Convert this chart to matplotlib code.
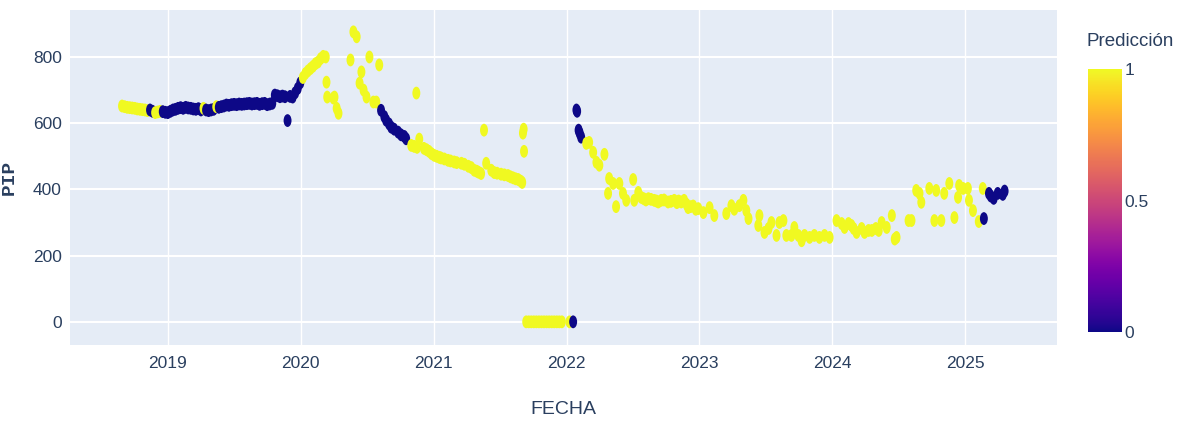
import matplotlib
matplotlib.use("Agg")
import matplotlib.pyplot as plt
import numpy as np
import pandas as pd
from matplotlib.path import Path
from matplotlib.transforms import Affine2D

# Reading of the reference: (fecha, PIP, prediccion)
PUNTOS = """
2018-08-28 652 1
2018-09-04 650 1
2018-09-11 648 1
2018-09-18 647 1
2018-09-25 646 1
2018-10-02 645 1
2018-10-09 643 1
2018-10-16 642 1
2018-10-23 641 1
2018-10-30 640 1
2018-11-06 638 1
2018-11-13 640 0
2018-11-20 636 0
2018-11-27 632 1
2018-12-04 634 1
2018-12-11 636 1
2018-12-18 635 0
2018-12-25 633 0
2019-01-01 632 0
2019-01-08 636 0
2019-01-15 640 0
2019-01-22 642 0
2019-01-29 645 0
2019-02-05 647 0
2019-02-12 645 0
2019-02-19 648 0
2019-02-26 646 0
2019-03-05 645 0
2019-03-12 643 0
2019-03-19 642 0
2019-03-26 644 0
2019-04-02 640 0
2019-04-09 645 1
2019-04-16 640 0
2019-04-23 638 0
2019-04-30 640 0
2019-05-07 642 0
2019-05-14 650 1
2019-05-21 648 0
2019-05-28 650 0
2019-06-04 652 0
2019-06-11 655 0
2019-06-18 654 0
2019-06-25 656 0
2019-07-02 657 0
2019-07-09 656 0
2019-07-16 658 0
2019-07-23 657 0
2019-07-30 658 0
2019-08-06 659 0
2019-08-13 660 0
2019-08-20 658 0
2019-08-27 659 0
2019-09-03 660 0
2019-09-10 657 0
2019-09-17 659 0
2019-09-24 660 0
2019-10-01 656 0
2019-10-08 658 0
2019-10-15 660 0
2019-10-22 685 0
2019-10-29 683 0
2019-11-05 680 0
2019-11-12 682 0
2019-11-19 680 0
2019-11-26 608 0
2019-12-03 681 0
2019-12-10 679 0
2019-12-17 692 0
2019-12-24 705 0
2019-12-31 722 0
2020-01-07 738 1
2020-01-14 750 1
2020-01-21 758 1
2020-01-28 765 1
2020-02-04 772 1
2020-02-11 780 1
2020-02-18 785 1
2020-02-25 795 1
2020-03-03 802 1
2020-03-10 800 1
2020-03-12 724 1
2020-03-14 679 1
2020-03-31 676 1
2020-04-03 679 1
2020-04-09 645 1
2020-04-14 630 1
2020-05-17 791 1
2020-05-25 876 1
2020-06-03 861 1
2020-06-11 721 1
2020-06-16 755 1
2020-06-22 700 1
2020-06-30 679 1
2020-07-08 800 1
2020-07-19 664 1
2020-07-27 664 1
2020-08-04 776 1
2020-08-09 639 0
2020-08-18 620 0
2020-08-23 609 0
2020-08-31 598 0
2020-09-06 588 0
2020-09-14 582 0
2020-09-25 573 0
2020-10-03 565 0
2020-10-12 560 0
2020-10-17 553 0
2020-10-31 533 1
2020-11-08 530 1
2020-11-14 691 1
2020-11-16 527 1
2020-11-22 552 1
2020-12-05 524 1
2020-12-12 520 1
2020-12-19 515 1
2020-12-26 508 1
2021-01-02 503 1
2021-01-09 500 1
2021-01-16 497 1
2021-01-21 495 1
2021-01-30 492 1
2021-02-09 488 1
2021-02-16 486 1
2021-02-26 483 1
2021-03-05 481 1
2021-03-18 479 1
2021-03-26 476 1
2021-04-06 470 1
2021-04-14 466 1
2021-04-22 458 1
2021-04-29 455 1
2021-05-04 452 1
2021-05-11 448 1
2021-05-19 579 1
2021-05-25 479 1
2021-06-08 458 1
2021-06-16 451 1
2021-06-24 449 1
2021-07-05 446 1
2021-07-14 444 1
2021-07-24 442 1
2021-07-31 438 1
2021-08-07 435 1
2021-08-14 432 1
2021-08-21 430 1
2021-08-28 425 1
2021-09-01 421 1
2021-09-03 570 1
2021-09-05 582 1
2021-09-06 515 1
2021-09-12 0 1
2021-09-19 0 1
2021-09-26 0 1
2021-10-03 0 1
2021-10-10 0 1
2021-10-17 0 1
2021-10-24 0 1
2021-10-31 0 1
2021-11-07 0 1
2021-11-14 0 1
2021-11-21 0 1
2021-11-28 0 1
2021-12-05 0 1
2021-12-12 0 1
2021-12-19 0 1
2022-01-09 0 1
2022-01-19 0 0
2022-01-28 640 0
2022-01-30 636 0
2022-02-03 579 0
2022-02-06 570 0
2022-02-10 558 0
2022-02-24 539 1
2022-03-04 542 1
2022-03-15 512 1
2022-03-24 482 1
2022-04-01 473 1
2022-04-15 506 1
2022-04-25 388 1
2022-04-28 433 1
2022-05-09 418 1
2022-05-17 348 1
2022-05-26 418 1
2022-06-05 388 1
2022-06-14 367 1
2022-07-03 430 1
2022-07-06 367 1
2022-07-17 391 1
2022-07-25 376 1
2022-08-01 372 1
2022-08-07 368 1
2022-08-14 372 1
2022-08-21 370 1
2022-08-30 367 1
2022-09-05 365 1
2022-09-10 362 1
2022-09-18 367 1
2022-09-26 368 1
2022-10-07 362 1
2022-10-15 364 1
2022-10-24 367 1
2022-10-31 360 1
2022-11-05 365 1
2022-11-12 362 1
2022-11-20 367 1
2022-11-27 355 1
2022-12-01 345 1
2022-12-08 348 1
2022-12-15 350 1
2022-12-22 340 1
2022-12-29 342 1
2023-01-12 330 1
2023-01-29 345 1
2023-02-11 321 1
2023-03-16 327 1
2023-03-30 351 1
2023-04-07 340 1
2023-04-21 351 1
2023-05-02 367 1
2023-05-10 336 1
2023-05-16 312 1
2023-06-12 291 1
2023-06-15 321 1
2023-06-29 270 1
2023-07-10 282 1
2023-07-18 300 1
2023-08-01 261 1
2023-08-09 300 1
2023-08-20 306 1
2023-08-28 261 1
2023-09-11 261 1
2023-09-19 285 1
2023-09-30 261 1
2023-10-09 245 1
2023-10-17 261 1
2023-10-31 255 1
2023-11-13 261 1
2023-11-27 255 1
2023-12-11 261 1
2023-12-25 255 1
2024-01-13 306 1
2024-01-27 297 1
2024-02-04 285 1
2024-02-15 297 1
2024-02-23 291 1
2024-02-29 282 1
2024-03-08 270 1
2024-03-22 282 1
2024-03-30 270 1
2024-04-10 276 1
2024-04-19 276 1
2024-04-30 282 1
2024-05-08 276 1
2024-05-16 300 1
2024-05-30 285 1
2024-06-13 321 1
2024-06-21 250 1
2024-06-26 255 1
2024-07-29 306 1
2024-08-06 306 1
2024-08-19 397 1
2024-08-28 388 1
2024-09-02 361 1
2024-09-24 403 1
2024-10-08 306 1
2024-10-13 397 1
2024-10-27 306 1
2024-11-04 388 1
2024-11-18 418 1
2024-12-02 315 1
2024-12-12 376 1
2024-12-15 412 1
2024-12-26 403 1
2025-01-08 403 1
2025-01-11 367 1
2025-01-22 336 1
2025-02-07 303 1
2025-02-18 403 1
2025-02-21 312 0
2025-03-07 388 0
2025-03-12 380 0
2025-03-20 373 0
2025-03-31 388 0
2025-04-14 385 0
2025-04-19 395 0
"""

rows = [ln.split() for ln in PUNTOS.strip().splitlines()]
fechas = pd.to_datetime([r[0] for r in rows])
pip = [float(r[1]) for r in rows]
prediccion = [float(r[2]) for r in rows]

year_ticks = ["2019", "2020", "2021", "2022", "2023", "2024", "2025"]
y_ticks = [0, 200, 400, 600, 800]
cbar_ticks = [0, 0.5, 1]
cbar_labels = ["0", "0.5", "1"]

TXT = "#2a3f5f"
BG = "#e5ecf6"
plt.rcParams["font.family"] = ["Liberation Sans Narrow", "Liberation Sans", "DejaVu Sans"]

fig = plt.figure(figsize=(11.78, 4.23), dpi=100)
fig.patch.set_facecolor("white")
ax = fig.add_axes([70 / 1178, 1 - 345 / 423, 987 / 1178, 335 / 423])
ax.set_facecolor(BG)

# plotly-like markers come out taller than wide in the reference
ellipse = Affine2D().scale(0.62, 1.0).transform_path(Path.unit_circle())

sc = ax.scatter(
    fechas, pip, c=prediccion, cmap="plasma", vmin=0, vmax=1,
    marker=ellipse, s=85, edgecolors="none", zorder=3,
)

ax.set_xlim(pd.Timestamp("2018-04-07"), pd.Timestamp("2025-09-10"))
ax.set_ylim(-70, 942)
ax.set_xticks(pd.to_datetime([f"{y}-01-01" for y in year_ticks]))
ax.set_xticklabels(year_ticks)
ax.set_yticks(y_ticks)
ax.set_yticklabels([str(v) for v in y_ticks])

for spine in ax.spines.values():
    spine.set_visible(False)
ax.tick_params(axis="both", length=0, labelsize=12.5, labelcolor=TXT)
ax.tick_params(axis="x", pad=8)
ax.tick_params(axis="y", pad=6)
ax.grid(axis="y", color="white", linewidth=1.5, zorder=0)
ax.grid(axis="x", color="white", linewidth=1.0, zorder=0)
ax.set_axisbelow(True)

ax.set_xlabel("FECHA", fontsize=14, color=TXT, va="center")
ax.xaxis.set_label_coords(0.5, -0.194)
ax.set_ylabel("PIP", fontsize=14, color=TXT, fontweight="bold",
              family=["Liberation Mono", "DejaVu Sans Mono"])
ax.yaxis.set_label_coords(-0.053, 0.5)

cax = fig.add_axes([1088 / 1178, 1 - 332 / 423, 34 / 1178, 263 / 423])
cbar = fig.colorbar(sc, cax=cax, ticks=cbar_ticks)
cbar.outline.set_visible(False)
cbar.ax.set_yticklabels(cbar_labels)
cbar.ax.tick_params(length=0, labelsize=12.5, labelcolor=TXT, pad=2)
fig.text(1086 / 1178, 1 - 42 / 423, "Predicción", fontsize=13.5, color=TXT,
         ha="left", va="center")

fig.savefig("out.png", dpi=100, facecolor="white")
